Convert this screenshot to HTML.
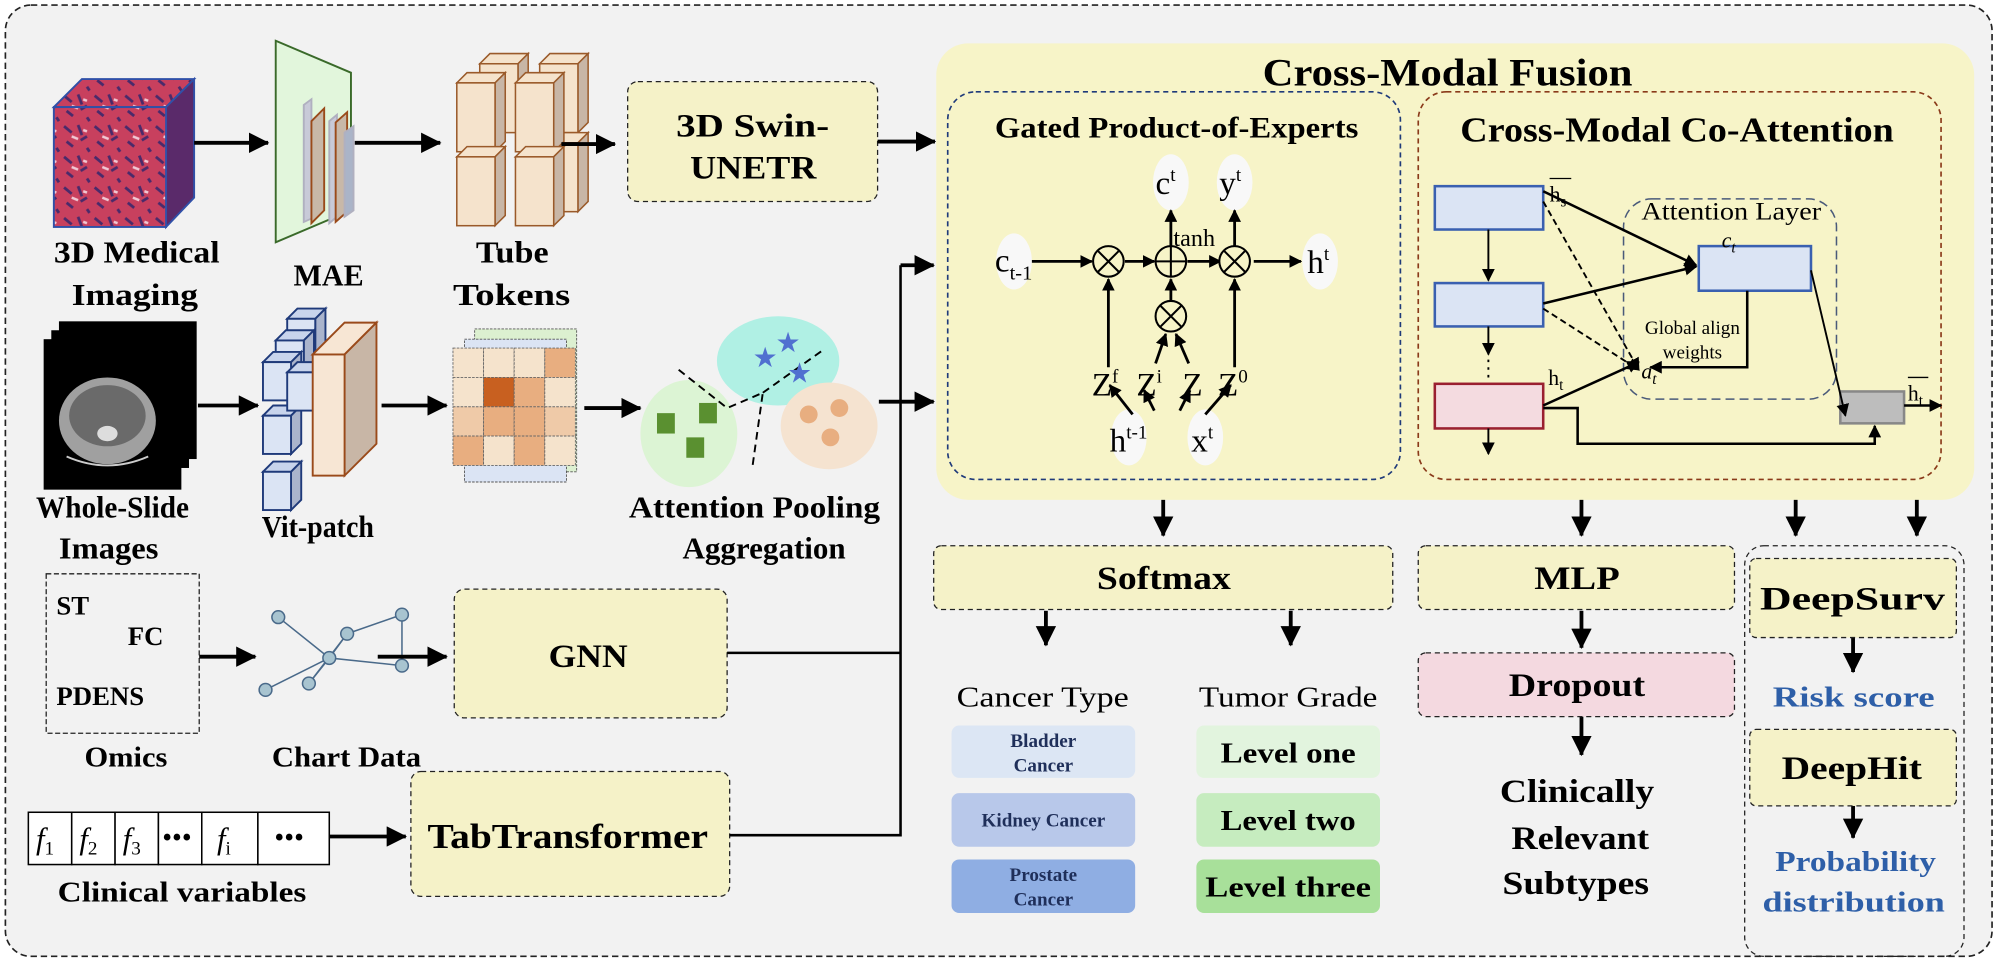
<!DOCTYPE html>
<html><head><meta charset="utf-8"><style>
html,body{margin:0;padding:0;background:#fff}
svg{display:block}
text{font-family:"Liberation Serif",serif}
.b{font-weight:bold}
</style></head><body>
<svg width="2000" height="964" viewBox="0 0 1568 756" xmlns="http://www.w3.org/2000/svg">
<defs>
<marker id="ah" markerWidth="10" markerHeight="10" refX="9" refY="5" orient="auto" markerUnits="userSpaceOnUse"><path d="M0,0 L10,5 L0,10 z" fill="#000"/></marker>
<marker id="AH" markerWidth="16" markerHeight="16" refX="15" refY="8" orient="auto" markerUnits="userSpaceOnUse"><path d="M0,0 L16,8 L0,16 z" fill="#000"/></marker>
<pattern id="tis" width="24" height="24" patternUnits="userSpaceOnUse"><rect width="24" height="24" fill="#c8405e"/><path d="M2,3 l6,5 M13,2 l3,8 M4,15 l5,4 M15,14 l5,-3 M20,20 l2,3" stroke="#4a2a6a" stroke-width="2.2"/><path d="M8,11 l5,2 M17,6 l3,1" stroke="#f0c8d4" stroke-width="2"/></pattern>
<g id="cb" stroke="#9a5a2a" stroke-width="1.2"><path d="M0,0 l8,-8 h30 l-8,8 z" fill="#f5e3cc"/><path d="M30,0 l8,-8 v54 l-8,8 z" fill="#c8b6a6"/><rect x="0" y="0" width="30" height="54" fill="#f5e3cc"/></g>
<g id="bc" stroke="#1f3a7a" stroke-width="1.5"><path d="M0,0 l8,-8 h22 l-8,8 z" fill="#c8d4ec"/><path d="M22,0 l8,-8 v30 l-8,8 z" fill="#aab4cc"/><rect width="22" height="30" fill="#dbe4f4"/></g>
</defs>
<rect x="0" y="0" width="1568" height="756" fill="#fff"/>
<rect x="4" y="4" width="1558" height="746" rx="20" fill="#f2f2f2" stroke="#222" stroke-width="1.3" stroke-dasharray="5,3"/>

<!-- Fusion -->
<rect x="734" y="34" width="814" height="358" rx="25" fill="#f7f4c8"/>
<text x="990" y="67" font-size="31" class="b" textLength="290" lengthAdjust="spacingAndGlyphs">Cross-Modal Fusion</text>
<rect x="743" y="72" width="355" height="304" rx="22" fill="none" stroke="#1f3a7a" stroke-width="1.3" stroke-dasharray="4,3"/>
<text x="780" y="108" font-size="23" class="b" textLength="285" lengthAdjust="spacingAndGlyphs">Gated Product-of-Experts</text>
<rect x="1112" y="72" width="410" height="304" rx="22" fill="none" stroke="#8a3a1a" stroke-width="1.3" stroke-dasharray="4,3"/>
<text x="1145" y="111" font-size="27" class="b" textLength="340" lengthAdjust="spacingAndGlyphs">Cross-Modal Co-Attention</text>

<!-- PoE -->
<g fill="#f8f8f8">
<ellipse cx="795" cy="205" rx="14" ry="22"/><ellipse cx="1035" cy="205" rx="14" ry="22"/>
<ellipse cx="918" cy="143" rx="14" ry="22"/><ellipse cx="968" cy="143" rx="14" ry="22"/>
<ellipse cx="885" cy="343" rx="14" ry="22"/><ellipse cx="945" cy="343" rx="14" ry="22"/>
</g>
<g stroke="#000" stroke-width="2.2" fill="none">
<line x1="809" y1="205" x2="856" y2="205" marker-end="url(#ah)"/>
<line x1="882" y1="205" x2="905" y2="205" marker-end="url(#ah)"/>
<line x1="931" y1="205" x2="957" y2="205" marker-end="url(#ah)"/>
<line x1="983" y1="205" x2="1020" y2="205" marker-end="url(#ah)"/>
<line x1="869" y1="288" x2="869" y2="219" marker-end="url(#ah)"/>
<line x1="968" y1="288" x2="968" y2="219" marker-end="url(#ah)"/>
<line x1="918" y1="236" x2="918" y2="219" marker-end="url(#ah)"/>
<line x1="918" y1="193" x2="918" y2="165" marker-end="url(#ah)"/>
<line x1="968" y1="193" x2="968" y2="165" marker-end="url(#ah)"/>
<line x1="906" y1="285" x2="914" y2="262" marker-end="url(#ah)"/>
<line x1="932" y1="285" x2="922" y2="262" marker-end="url(#ah)"/>
<line x1="888" y1="325" x2="870" y2="302" marker-end="url(#ah)"/>
<line x1="905" y1="322" x2="897" y2="306" marker-end="url(#ah)"/>
<line x1="925" y1="322" x2="933" y2="306" marker-end="url(#ah)"/>
<line x1="945" y1="325" x2="965" y2="302" marker-end="url(#ah)"/>
</g>
<g stroke="#000" stroke-width="1.6" fill="#f7f4c8">
<circle cx="869" cy="205" r="12"/><circle cx="918" cy="205" r="12"/><circle cx="968" cy="205" r="12"/><circle cx="918" cy="248" r="12"/>
<path d="M861,197 l16,16 M877,197 l-16,16 M906,205 h24 M918,193 v24 M960,197 l16,16 M976,197 l-16,16 M910,240 l16,16 M926,240 l-16,16" fill="none"/>
</g>
<g font-size="26">
<text x="780" y="213">c<tspan font-size="16" dy="6">t-1</tspan></text>
<text x="1025" y="214">h<tspan font-size="15" dy="-10">t</tspan></text>
<text x="906" y="152">c<tspan font-size="15" dy="-10">t</tspan></text>
<text x="956" y="152">y<tspan font-size="15" dy="-10">t</tspan></text>
<text x="920" y="193" font-size="19">tanh</text>
<text x="856" y="310">Z<tspan font-size="15" dy="-10">f</tspan></text>
<text x="891" y="310">Z<tspan font-size="15" dy="-10">i</tspan></text>
<text x="927" y="310">Z</text>
<text x="955" y="310">Z<tspan font-size="15" dy="-10">0</tspan></text>
<text x="870" y="354">h<tspan font-size="15" dy="-10">t-1</tspan></text>
<text x="934" y="354">x<tspan font-size="15" dy="-10">t</tspan></text>
</g>

<!-- Co-attention -->
<rect x="1273" y="156" width="167" height="157" rx="22" fill="none" stroke="#4a5a7a" stroke-width="1.2" stroke-dasharray="7,4"/>
<g stroke-width="2">
<rect x="1125" y="146" width="85" height="34" fill="#dbe4f4" stroke="#3a60b0"/>
<rect x="1125" y="222" width="85" height="34" fill="#dbe4f4" stroke="#3a60b0"/>
<rect x="1125" y="301" width="85" height="35" fill="#f4dbe0" stroke="#9a2030"/>
<rect x="1332" y="193" width="88" height="35" fill="#dbe4f4" stroke="#3a60b0"/>
<rect x="1443" y="307" width="50" height="25" fill="#bdbdbd" stroke="#888"/>
</g>
<g stroke="#000" stroke-width="1.5" fill="none">
<line x1="1167" y1="180" x2="1167" y2="220" marker-end="url(#ah)"/>
<line x1="1167" y1="256" x2="1167" y2="278" marker-end="url(#ah)"/>
<line x1="1167" y1="282" x2="1167" y2="298" stroke-dasharray="2,4"/>
<line x1="1167" y1="336" x2="1167" y2="356" marker-end="url(#ah)"/>
<line x1="1210" y1="150" x2="1330" y2="208" stroke-width="2" marker-end="url(#ah)"/>
<line x1="1210" y1="238" x2="1330" y2="209" stroke-width="2" marker-end="url(#ah)"/>
<line x1="1210" y1="158" x2="1285" y2="290" stroke-dasharray="5,3" marker-end="url(#ah)"/>
<line x1="1210" y1="242" x2="1285" y2="290" stroke-dasharray="5,3" marker-end="url(#ah)"/>
<line x1="1210" y1="318" x2="1285" y2="284" stroke-width="2" marker-end="url(#ah)"/>
<polyline points="1370,228 1370,288 1294,288" stroke-width="2" marker-end="url(#ah)"/>
<line x1="1420" y1="212" x2="1447" y2="326" marker-end="url(#ah)"/>
<polyline points="1210,320 1237,320 1237,348 1470,348 1470,334" stroke-width="2" marker-end="url(#ah)"/>
<line x1="1493" y1="318" x2="1522" y2="318" stroke-width="2" marker-end="url(#ah)"/>
</g>
<g font-size="17">
<text x="1215" y="158">h<tspan font-size="12" dy="4">s</tspan></text><line x1="1215" y1="140" x2="1232" y2="140" stroke="#000"/>
<text x="1287" y="172" font-size="20" textLength="141" lengthAdjust="spacingAndGlyphs">Attention Layer</text>
<text x="1350" y="194" font-style="italic" font-family="Liberation Sans,sans-serif">c<tspan font-size="12" dy="4">t</tspan></text>
<text x="1327" y="262" text-anchor="middle" font-size="15">Global align</text>
<text x="1327" y="281" text-anchor="middle" font-size="15">weights</text>
<text x="1287" y="297" font-style="italic">a<tspan font-size="12" dy="4">t</tspan></text>
<text x="1214" y="302">h<tspan font-size="12" dy="4">t</tspan></text>
<text x="1496" y="314">h<tspan font-size="12" dy="4">t</tspan></text><line x1="1496" y1="296" x2="1512" y2="296" stroke="#000"/>
</g>

<!-- Left column top -->
<path d="M42,84 L64,62 L152,62 L130,84 Z" fill="url(#tis)" stroke="#3050a8" stroke-width="1.5"/>
<path d="M130,84 L152,62 L152,155 L130,178 Z" fill="#5a2a6a" stroke="#3050a8" stroke-width="1.5"/>
<rect x="42" y="84" width="88" height="94" fill="url(#tis)" stroke="#3050a8" stroke-width="1.5"/>
<line x1="152" y1="112" x2="210" y2="112" stroke="#000" stroke-width="3" marker-end="url(#AH)"/>
<path d="M216,32 L275,57 L275,165 L216,190 Z" fill="#e2f6dc" stroke="#3a6a2a" stroke-width="1.5"/>
<g stroke-width="1.5">
<path d="M238,97 l6,-5 v104 l-6,3 z" fill="#c8cad8" stroke="#b0b0c0" transform="translate(0,-5) scale(1,0.9)"/>
<path d="M244,95 l10,-10 v80 l-10,10 z" fill="#c8b8a8" stroke="#9a4a1a"/>
<path d="M258,95 l6,-5 v80 l-6,5 z" fill="#c8cad8" stroke="#b0b0c0"/>
<path d="M263,96 l9,-8 v78 l-9,8 z" fill="#c8b8a8" stroke="#9a4a1a"/>
<path d="M270,104 l7,-5 v66 l-7,5 z" fill="#aab4c8" stroke="#b0b0c0"/>
</g>
<line x1="278" y1="112" x2="345" y2="112" stroke="#000" stroke-width="3" marker-end="url(#AH)"/>
<use href="#cb" x="376" y="50"/><use href="#cb" x="423" y="50"/><use href="#cb" x="423" y="112"/>
<use href="#cb" x="358" y="65"/><use href="#cb" x="404" y="65"/>
<use href="#cb" x="358" y="123"/><use href="#cb" x="404" y="123"/>
<line x1="440" y1="113" x2="482" y2="113" stroke="#000" stroke-width="3" marker-end="url(#AH)"/>
<rect x="492" y="64" width="196" height="94" rx="8" fill="#f5f2c8" stroke="#222" stroke-dasharray="4,3"/>
<text x="530" y="107" font-size="26" class="b" textLength="120" lengthAdjust="spacingAndGlyphs">3D Swin-</text>
<text x="541" y="140" font-size="26" class="b" textLength="99" lengthAdjust="spacingAndGlyphs">UNETR</text>
<line x1="688" y1="111" x2="733" y2="111" stroke="#000" stroke-width="3" marker-end="url(#AH)"/>
<g font-size="24" class="b">
<text x="42" y="206" textLength="130" lengthAdjust="spacingAndGlyphs">3D Medical</text><text x="56" y="239" textLength="99" lengthAdjust="spacingAndGlyphs">Imaging</text>
<text x="230" y="224" textLength="55" lengthAdjust="spacingAndGlyphs">MAE</text>
<text x="373" y="206" textLength="57" lengthAdjust="spacingAndGlyphs">Tube</text><text x="355" y="239" textLength="92" lengthAdjust="spacingAndGlyphs">Tokens</text>
</g>

<!-- WSI row -->
<rect x="46" y="252" width="108" height="108" fill="#000"/>
<rect x="40" y="259" width="108" height="108" fill="#000"/>
<rect x="34" y="266" width="108" height="118" fill="#000"/>
<ellipse cx="84" cy="330" rx="38" ry="34" fill="#a0a0a0"/>
<ellipse cx="84" cy="326" rx="30" ry="24" fill="#6a6a6a"/>
<ellipse cx="84" cy="340" rx="8" ry="6" fill="#ddd"/>
<path d="M52,358 q32,14 64,0" stroke="#ccc" fill="none" stroke-width="1.5"/>
<line x1="155" y1="318" x2="202" y2="318" stroke="#000" stroke-width="3" marker-end="url(#AH)"/>
<use href="#bc" x="225" y="250"/><use href="#bc" x="216" y="267"/><use href="#bc" x="206" y="284"/>
<use href="#bc" x="206" y="326"/><use href="#bc" x="206" y="370"/><use href="#bc" x="225" y="292"/>
<path d="M245,278 L270,253 L295,253 L270,278 Z" fill="#f7e6d4" stroke="#9a4a1a" stroke-width="1.5"/>
<path d="M270,278 L295,253 L295,348 L270,373 Z" fill="#c8b6a6" stroke="#9a4a1a" stroke-width="1.5"/>
<rect x="245" y="278" width="25" height="95" fill="#f7e6d4" stroke="#9a4a1a" stroke-width="1.5"/>
<line x1="299" y1="318" x2="350" y2="318" stroke="#000" stroke-width="3" marker-end="url(#AH)"/>
<g stroke="#555" stroke-width="0.7" stroke-dasharray="2,1">
<rect x="372" y="258" width="80" height="112" fill="#dcf0d0"/>
<rect x="364" y="266" width="80" height="112" fill="#dbe4f4"/>
</g>
<g stroke="#666" stroke-width="0.7" stroke-dasharray="2,1">
<rect x="355" y="273" width="24" height="23" fill="#f5e3cc"/><rect x="379" y="273" width="24" height="23" fill="#f5e3cc"/><rect x="403" y="273" width="24" height="23" fill="#f5e3cc"/><rect x="427" y="273" width="24" height="23" fill="#e8ae80"/>
<rect x="355" y="296" width="24" height="23" fill="#f5e3cc"/><rect x="379" y="296" width="24" height="23" fill="#c86020"/><rect x="403" y="296" width="24" height="23" fill="#e8ae80"/><rect x="427" y="296" width="24" height="23" fill="#f5e3cc"/>
<rect x="355" y="319" width="24" height="23" fill="#efcaa8"/><rect x="379" y="319" width="24" height="23" fill="#e8ae80"/><rect x="403" y="319" width="24" height="23" fill="#e8ae80"/><rect x="427" y="319" width="24" height="23" fill="#efcaa8"/>
<rect x="355" y="342" width="24" height="23" fill="#e8ae80"/><rect x="379" y="342" width="24" height="23" fill="#f5e3cc"/><rect x="403" y="342" width="24" height="23" fill="#e8ae80"/><rect x="427" y="342" width="24" height="23" fill="#f5e3cc"/>
</g>
<line x1="458" y1="320" x2="502" y2="320" stroke="#000" stroke-width="3" marker-end="url(#AH)"/>
<ellipse cx="610" cy="283" rx="48" ry="35" fill="#b0f0e4"/>
<ellipse cx="540" cy="340" rx="38" ry="42" fill="#dcf4d4"/>
<ellipse cx="650" cy="334" rx="38" ry="34" fill="#f5e3d0"/>
<path d="M532,290 l38,30 l28,-12 l-8,57 M598,308 l48,-34" stroke="#000" stroke-width="1.5" stroke-dasharray="6,4" fill="none"/>
<g fill="#5070d0" font-size="22"><text x="590" y="288">★</text><text x="608" y="276">★</text><text x="617" y="300">★</text></g>
<g fill="#5a9030"><rect x="548" y="316" width="14" height="16"/><rect x="515" y="324" width="14" height="16"/><rect x="538" y="343" width="14" height="16"/></g>
<g fill="#e8ae80"><circle cx="634" cy="325" r="7"/><circle cx="658" cy="320" r="7"/><circle cx="651" cy="343" r="7"/></g>
<line x1="689" y1="315" x2="732" y2="315" stroke="#000" stroke-width="3" marker-end="url(#AH)"/>
<g font-size="24" class="b">
<text x="28" y="406" textLength="120" lengthAdjust="spacingAndGlyphs">Whole-Slide</text><text x="46" y="438" textLength="78" lengthAdjust="spacingAndGlyphs">Images</text>
<text x="205" y="421" textLength="88" lengthAdjust="spacingAndGlyphs">Vit-patch</text>
<text x="493" y="406" textLength="197" lengthAdjust="spacingAndGlyphs">Attention Pooling</text><text x="535" y="438" textLength="128" lengthAdjust="spacingAndGlyphs">Aggregation</text>
</g>

<!-- Omics -->
<rect x="36" y="450" width="120" height="125" fill="none" stroke="#222" stroke-dasharray="4,2"/>
<g font-size="21" class="b"><text x="44" y="482">ST</text><text x="100" y="506">FC</text><text x="44" y="553">PDENS</text></g>
<line x1="156" y1="515" x2="200" y2="515" stroke="#000" stroke-width="3" marker-end="url(#AH)"/>
<g stroke="#4a6a8a" stroke-width="1.2">
<path d="M218,484 L258,516 L272,497 L258,516 L242,536 L258,516 L315,522 M272,497 L315,482 L315,522 M258,516 L208,541 M272,497 L242,536" fill="none"/>
<g fill="#a8c4d0"><circle cx="218" cy="484" r="5"/><circle cx="272" cy="497" r="5"/><circle cx="258" cy="516" r="5"/><circle cx="242" cy="536" r="5"/><circle cx="208" cy="541" r="5"/><circle cx="315" cy="482" r="5"/><circle cx="315" cy="522" r="5"/></g>
</g>
<line x1="296" y1="515" x2="350" y2="515" stroke="#000" stroke-width="3" marker-end="url(#AH)"/>
<rect x="356" y="462" width="214" height="101" rx="8" fill="#f5f2c8" stroke="#222" stroke-dasharray="4,3"/>
<text x="430" y="523" font-size="26" class="b" textLength="62" lengthAdjust="spacingAndGlyphs">GNN</text>
<g font-size="22" class="b"><text x="66" y="601" textLength="65" lengthAdjust="spacingAndGlyphs">Omics</text><text x="213" y="601" textLength="117" lengthAdjust="spacingAndGlyphs">Chart Data</text><text x="45" y="707" textLength="195" lengthAdjust="spacingAndGlyphs">Clinical variables</text></g>

<!-- Clinical -->
<g fill="#fff" stroke="#000" stroke-width="1.2">
<rect x="22" y="637" width="34" height="41"/><rect x="56" y="637" width="34" height="41"/><rect x="90" y="637" width="34" height="41"/><rect x="124" y="637" width="34" height="41"/><rect x="158" y="637" width="44" height="41"/><rect x="202" y="637" width="56" height="41"/>
</g>
<g font-size="24" font-style="italic">
<text x="28" y="666">f<tspan font-size="15" font-style="normal" dy="4">1</tspan></text>
<text x="62" y="666">f<tspan font-size="15" font-style="normal" dy="4">2</tspan></text>
<text x="96" y="666">f<tspan font-size="15" font-style="normal" dy="4">3</tspan></text>
<text x="127" y="664" font-style="normal" font-size="22">•••</text>
<text x="170" y="666">f<tspan font-size="15" font-style="normal" dy="4">i</tspan></text>
<text x="215" y="664" font-style="normal" font-size="22">•••</text>
</g>
<line x1="258" y1="656" x2="318" y2="656" stroke="#000" stroke-width="3" marker-end="url(#AH)"/>
<rect x="322" y="605" width="250" height="98" rx="8" fill="#f5f2c8" stroke="#222" stroke-dasharray="4,3"/>
<text x="335" y="665" font-size="27" class="b" textLength="220" lengthAdjust="spacingAndGlyphs">TabTransformer</text>

<!-- vertical merge -->
<path d="M570,512 H706 M572,655 H706 V208" stroke="#000" stroke-width="2" fill="none"/>
<line x1="706" y1="208" x2="732" y2="208" stroke="#000" stroke-width="3" marker-end="url(#AH)"/>

<!-- Downstream -->
<g stroke="#000" stroke-width="3">
<line x1="912" y1="392" x2="912" y2="420" marker-end="url(#AH)"/>
<line x1="1240" y1="392" x2="1240" y2="420" marker-end="url(#AH)"/>
<line x1="1408" y1="392" x2="1408" y2="420" marker-end="url(#AH)"/>
<line x1="1503" y1="392" x2="1503" y2="420" marker-end="url(#AH)"/>
<line x1="820" y1="479" x2="820" y2="506" marker-end="url(#AH)"/>
<line x1="1012" y1="479" x2="1012" y2="506" marker-end="url(#AH)"/>
<line x1="1240" y1="479" x2="1240" y2="508" marker-end="url(#AH)"/>
<line x1="1240" y1="562" x2="1240" y2="592" marker-end="url(#AH)"/>
<line x1="1453" y1="500" x2="1453" y2="527" marker-end="url(#AH)"/>
<line x1="1453" y1="632" x2="1453" y2="657" marker-end="url(#AH)"/>
</g>
<rect x="732" y="428" width="360" height="50" rx="6" fill="#f5f2c8" stroke="#222" stroke-dasharray="4,3"/>
<text x="860" y="462" font-size="26" class="b" textLength="105" lengthAdjust="spacingAndGlyphs">Softmax</text>
<rect x="1112" y="428" width="248" height="50" rx="6" fill="#f5f2c8" stroke="#222" stroke-dasharray="4,3"/>
<text x="1203" y="462" font-size="26" class="b" textLength="67" lengthAdjust="spacingAndGlyphs">MLP</text>
<rect x="1112" y="512" width="248" height="50" rx="6" fill="#f4d9e0" stroke="#222" stroke-dasharray="4,3"/>
<text x="1183" y="546" font-size="26" class="b" textLength="107" lengthAdjust="spacingAndGlyphs">Dropout</text>
<g font-size="26" class="b"><text x="1176" y="629" textLength="121" lengthAdjust="spacingAndGlyphs">Clinically</text><text x="1185" y="666" textLength="108" lengthAdjust="spacingAndGlyphs">Relevant</text><text x="1178" y="701" textLength="115" lengthAdjust="spacingAndGlyphs">Subtypes</text></g>
<rect x="1368" y="428" width="172" height="322" rx="15" fill="none" stroke="#222" stroke-dasharray="4,3"/>
<rect x="1372" y="438" width="162" height="62" rx="5" fill="#f5f2c8" stroke="#222" stroke-dasharray="4,3"/>
<text x="1380" y="478" font-size="26" class="b" textLength="145" lengthAdjust="spacingAndGlyphs">DeepSurv</text>
<rect x="1372" y="572" width="162" height="60" rx="5" fill="#f5f2c8" stroke="#222" stroke-dasharray="4,3"/>
<text x="1397" y="611" font-size="26" class="b" textLength="110" lengthAdjust="spacingAndGlyphs">DeepHit</text>
<g font-family="Liberation Sans,sans-serif" font-weight="bold" fill="#2e5fa8" font-size="22">
<text x="1390" y="554" textLength="127" lengthAdjust="spacingAndGlyphs">Risk score</text><text x="1392" y="683" textLength="126" lengthAdjust="spacingAndGlyphs">Probability</text><text x="1382" y="715" textLength="143" lengthAdjust="spacingAndGlyphs">distribution</text></g>

<g font-size="22"><text x="750" y="554" textLength="135" lengthAdjust="spacingAndGlyphs">Cancer Type</text><text x="940" y="554" textLength="140" lengthAdjust="spacingAndGlyphs">Tumor Grade</text></g>
<rect x="746" y="569" width="144" height="41" rx="6" fill="#dce6f4"/>
<rect x="746" y="622" width="144" height="42" rx="6" fill="#b8c8ea"/>
<rect x="746" y="674" width="144" height="42" rx="6" fill="#8faee3"/>
<g font-size="15" class="b" text-anchor="middle" fill="#1f2f5a">
<text x="818" y="586">Bladder</text><text x="818" y="605">Cancer</text>
<text x="818" y="648">Kidney Cancer</text>
<text x="818" y="691">Prostate</text><text x="818" y="710">Cancer</text></g>
<rect x="938" y="569" width="144" height="41" rx="6" fill="#e2f4de"/>
<rect x="938" y="622" width="144" height="42" rx="6" fill="#c6ecbf"/>
<rect x="938" y="674" width="144" height="42" rx="6" fill="#a8e09a"/>
<g font-size="22" class="b"><text x="957" y="598" textLength="106" lengthAdjust="spacingAndGlyphs">Level one</text><text x="957" y="651" textLength="106" lengthAdjust="spacingAndGlyphs">Level two</text><text x="945" y="703" textLength="130" lengthAdjust="spacingAndGlyphs">Level three</text></g>
</svg>
</body></html>
